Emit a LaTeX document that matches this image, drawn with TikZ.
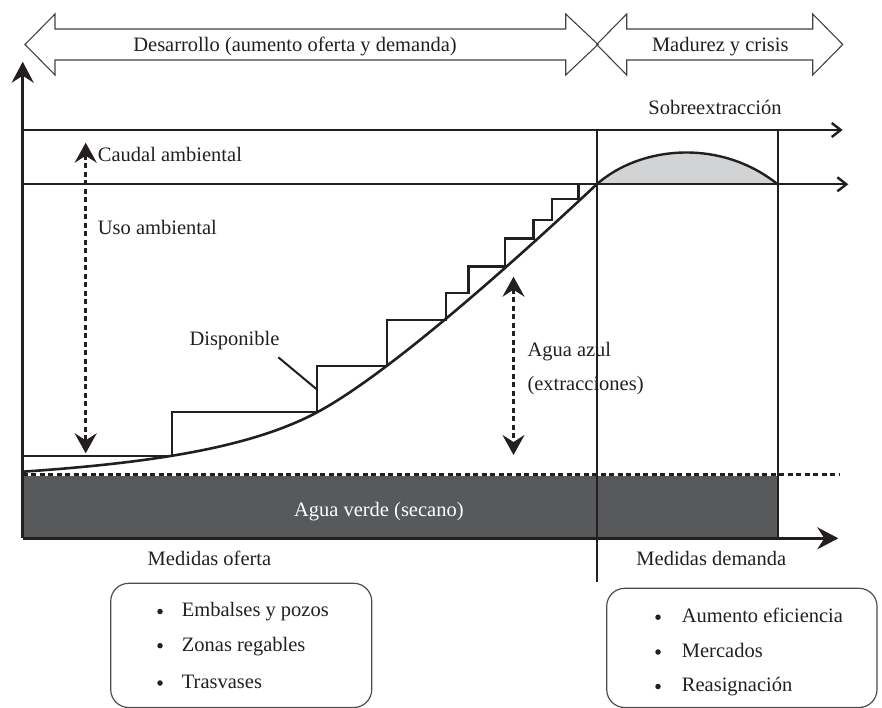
\documentclass[tikz,border=0pt]{standalone}
\usepackage{fontspec}
\setmainfont{Liberation Serif}
\usetikzlibrary{arrows.meta}
\definecolor{bandgray}{HTML}{58595B}
\definecolor{humpgray}{HTML}{D1D3D4}
\definecolor{ink}{HTML}{231F20}
\begin{document}
\begin{tikzpicture}[x=1pt,y=-1pt,
  lbl/.style={font=\fontsize{20.5}{24}\selectfont, inner sep=0pt, text=ink},
  axisline/.style={line width=2.6pt, draw=ink},
  mainline/.style={line width=2.4pt, draw=ink},
  bigtip/.style={-{Stealth[length=21pt,width=22pt,inset=7pt]}},
  bothtip/.style={{Stealth[length=20pt,width=22pt,inset=7pt]}-{Stealth[length=20pt,width=22pt,inset=7pt]}},
  opentip/.style={-{Straight Barb[length=9pt,width=14pt]}},
  dots/.style={line width=2.6pt, draw=ink, dash pattern=on 5pt off 3.5pt},
  phase/.style={line width=1.1pt, draw=ink!85, line join=miter},
  listbox/.style={line width=1.2pt, draw=ink!80, rounded corners=18pt},
  bulletdot/.style={circle, fill=ink, inner sep=0pt, minimum size=5.5pt}
]
\useasboundingbox (0,0) rectangle (882,708);

% ---- top phase arrows
\draw[phase] (25,44.5) -- (55,14) -- (55,29) -- (565.7,29) -- (565.7,14) -- (598,44.5)
  -- (565.7,75) -- (565.7,60) -- (55,60) -- (55,75) -- cycle;
\draw[phase] (596.7,44.5) -- (626.7,14) -- (626.7,29) -- (812.7,29) -- (812.7,14) -- (842.7,44.5)
  -- (812.7,75) -- (812.7,60) -- (626.7,60) -- (626.7,75) -- cycle;
\node[lbl, anchor=base] (desa) at (295,51.5) {Desarrollo (aumento oferta y demanda)};
\node[lbl, anchor=base] (madu) at (720.3,51.5) {Madurez y crisis};

% ---- green water band
\fill[bandgray] (22.7,475.7) rectangle (777.7,538.3);
\node[lbl, anchor=base, text=white] (verde) at (378.8,516) {Agua verde (secano)};
\draw[dots] (22.7,474.3) -- (840,474.3);

% ---- overexploitation hump
\fill[humpgray] (596.7,184.3) .. controls (640,146) and (720,138) .. (777.7,184.3) -- cycle;
\draw[mainline] (596.7,184.3) .. controls (640,146) and (720,138) .. (777.7,184.3);

% ---- horizontal reference lines
\coordinate (h1s) at (22.7,130);
\coordinate (h1e) at (842.7,130);
\coordinate (h2s) at (22.7,184.3);
\coordinate (h2e) at (848.3,184.3);
\draw[mainline, opentip] (h1s) -- (h1e);
\draw[mainline, opentip] (h2s) -- (h2e);
\node[lbl, anchor=base] (sobre) at (715,115) {Sobreextracción};

% ---- vertical phase lines
\draw[mainline] (596.7,130) -- (596.7,581.7);
\draw[mainline] (777.7,130) -- (777.7,538.3);

% ---- axes
\coordinate (org) at (22.7,538.3);
\coordinate (ytip) at (22.7,61.7);
\coordinate (xtip) at (838.3,538.3);
\draw[axisline, bigtip] (org) -- (ytip);
\draw[axisline, bigtip] (org) -- (xtip);

% ---- demand curve
\draw[mainline, line width=2.6pt] (22.7,471.7) .. controls (150,463) and (250,448) .. (316.7,412.5)
  .. controls (383.4,377) and (500,275) .. (596.7,184.3);

% ---- supply staircase
\draw[mainline, line join=miter] (22.7,456) -- (171.7,456) -- (171.7,411.7) -- (316.7,411.7)
  -- (316.7,366) -- (386.7,366) -- (386.7,320) -- (446,320) -- (446,292.7)
  -- (468.3,292.7) -- (468.3,266.7) -- (505,266.7) -- (505,238.5) -- (533.3,238.5)
  -- (533.3,220) -- (551.7,220) -- (551.7,199.3) -- (578.3,199.3) -- (578.3,184.3);

% ---- Disponible label with leader
\node[lbl, anchor=base west] (disp) at (189.3,345) {Disponible};
\coordinate (lead1) at (278.3,357.3);
\coordinate (lead2) at (316.7,389.3);
\draw[line width=2pt, draw=ink] (lead1) -- (lead2);

% ---- environmental flow arrow
\coordinate (ca1) at (85.7,142.7);
\coordinate (ca2) at (85.7,453.3);
\draw[dots, bothtip] (ca1) -- (ca2);
\node[lbl, anchor=base west] (caudal) at (97.7,162) {Caudal ambiental};
\node[lbl, anchor=base west] (uso) at (97.7,235) {Uso ambiental};

% ---- blue water arrow
\coordinate (az1) at (513.5,276.7);
\coordinate (az2) at (513.5,455);
\draw[dots, bothtip] (az1) -- (az2);
\node[lbl, anchor=base west] (azul) at (527.3,356.7) {Agua azul};
\node[lbl, anchor=base west] (extr) at (527.3,390) {(extracciones)};

% ---- measures
\node[lbl, anchor=base] (mof) at (209.5,565) {Medidas oferta};
\node[lbl, anchor=base] (mde) at (711.3,565) {Medidas demanda};

\draw[listbox] (110.7,583.3) rectangle (371.7,707.5);
\node[bulletdot] (b1) at (160,611.5) {};
\node[bulletdot] (b2) at (160,645.7) {};
\node[bulletdot] (b3) at (160,683) {};
\node[lbl, anchor=base west] (t1) at (181.7,616.7) {Embalses y pozos};
\node[lbl, anchor=base west] (t2) at (181.7,651) {Zonas regables};
\node[lbl, anchor=base west] (t3) at (181.7,688.3) {Trasvases};

\draw[listbox] (606.7,588.3) rectangle (877,707.5);
\node[bulletdot] (b4) at (658,617.2) {};
\node[bulletdot] (b5) at (658,652) {};
\node[bulletdot] (b6) at (658,686.5) {};
\node[lbl, anchor=base west] (t4) at (681.7,622.5) {Aumento eficiencia};
\node[lbl, anchor=base west] (t5) at (681.7,657.3) {Mercados};
\node[lbl, anchor=base west] (t6) at (681.7,691.7) {Reasignación};
\end{tikzpicture}
\end{document}
